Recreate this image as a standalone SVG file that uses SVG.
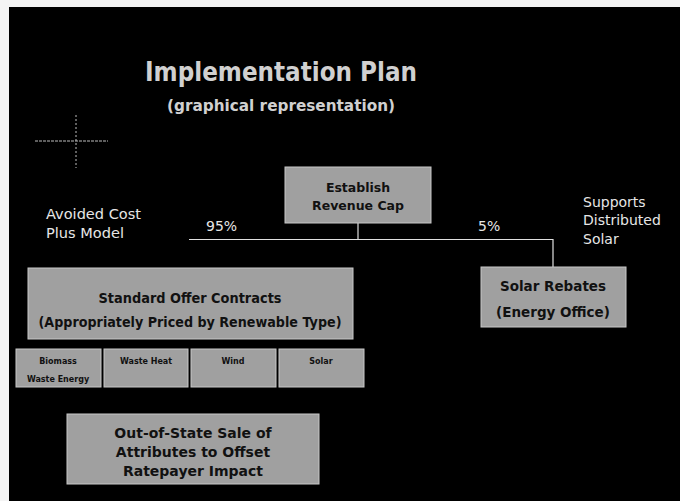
<svg xmlns="http://www.w3.org/2000/svg" width="680" height="501" viewBox="0 0 680 501">
<style>
.bg{fill:#000}
.box{fill:#a0a0a0;stroke:#c8c8c8;stroke-width:1}
.bt{font-family:"DejaVu Sans","Liberation Sans",sans-serif;font-weight:bold;fill:#111;text-anchor:middle}
.lt{font-family:"DejaVu Sans","Liberation Sans",sans-serif;fill:#e6e6e6}
.ttl{font-family:"DejaVu Sans","Liberation Sans",sans-serif;font-weight:bold;fill:#d0d0d0;text-anchor:middle}
.con{stroke:#e0e0e0;stroke-width:1.2;fill:none}
</style>
<rect x="0" y="0" width="680" height="501" fill="#f4f4f4"/>
<rect class="bg" x="9" y="7" width="671" height="494"/>
<g id="title">
<text class="ttl" x="281" y="81" font-size="26" textLength="272" lengthAdjust="spacingAndGlyphs">Implementation Plan</text>
<text class="ttl" x="281" y="111" font-size="16" textLength="228" lengthAdjust="spacingAndGlyphs">(graphical representation)</text>
</g>
<g id="crosshair" stroke="#bdbdbd" stroke-width="1">
<line x1="35" y1="141" x2="108" y2="141" stroke-dasharray="3,1"/>
<line x1="76" y1="115" x2="76" y2="168" stroke-dasharray="2,2"/>
</g>
<g id="connectors">
<polyline class="con" points="358,223 358,239"/>
<polyline class="con" points="189,239.5 553,239.5 553,267"/>
</g>
<g id="labels">
<text class="lt" x="46" y="219" font-size="14" textLength="95" lengthAdjust="spacingAndGlyphs">Avoided Cost</text>
<text class="lt" x="46" y="238" font-size="14" textLength="78" lengthAdjust="spacingAndGlyphs">Plus Model</text>
<text class="lt" x="206" y="231" font-size="14">95%</text>
<text class="lt" x="478" y="231" font-size="14">5%</text>
<text class="lt" x="583" y="207" font-size="14">Supports</text>
<text class="lt" x="583" y="225" font-size="14">Distributed</text>
<text class="lt" x="583" y="244" font-size="14">Solar</text>
</g>
<g id="establish">
<rect class="box" x="285" y="167" width="146" height="56"/>
<text class="bt" x="358" y="192" font-size="12.5">Establish</text>
<text class="bt" x="358" y="210" font-size="12.5">Revenue Cap</text>
</g>
<g id="standard-offer">
<rect class="box" x="28" y="268" width="325" height="71"/>
<text class="bt" x="190" y="303" font-size="14" textLength="183" lengthAdjust="spacingAndGlyphs">Standard Offer Contracts</text>
<text class="bt" x="190" y="327" font-size="14" textLength="303" lengthAdjust="spacingAndGlyphs">(Appropriately Priced by Renewable Type)</text>
</g>
<g id="solar-rebates">
<rect class="box" x="481" y="267" width="145" height="60"/>
<text class="bt" x="553" y="291" font-size="13.5">Solar Rebates</text>
<text class="bt" x="553" y="317" font-size="13.5">(Energy Office)</text>
</g>
<g id="biomass">
<rect class="box" x="16" y="349" width="85" height="38"/>
<text class="bt" x="58" y="364" font-size="8">Biomass</text>
<text class="bt" x="58" y="382" font-size="8">Waste Energy</text>
</g>
<g id="waste-heat">
<rect class="box" x="104" y="349" width="84" height="38"/>
<text class="bt" x="146" y="364" font-size="8">Waste Heat</text>
</g>
<g id="wind">
<rect class="box" x="191" y="349" width="85" height="38"/>
<text class="bt" x="233" y="364" font-size="8">Wind</text>
</g>
<g id="solar">
<rect class="box" x="279" y="349" width="85" height="38"/>
<text class="bt" x="321" y="364" font-size="8">Solar</text>
</g>
<g id="out-of-state">
<rect class="box" x="67" y="414" width="252" height="70"/>
<text class="bt" x="193" y="438" font-size="14">Out-of-State Sale of</text>
<text class="bt" x="193" y="457" font-size="14">Attributes to Offset</text>
<text class="bt" x="193" y="476" font-size="14">Ratepayer Impact</text>
</g>
</svg>
